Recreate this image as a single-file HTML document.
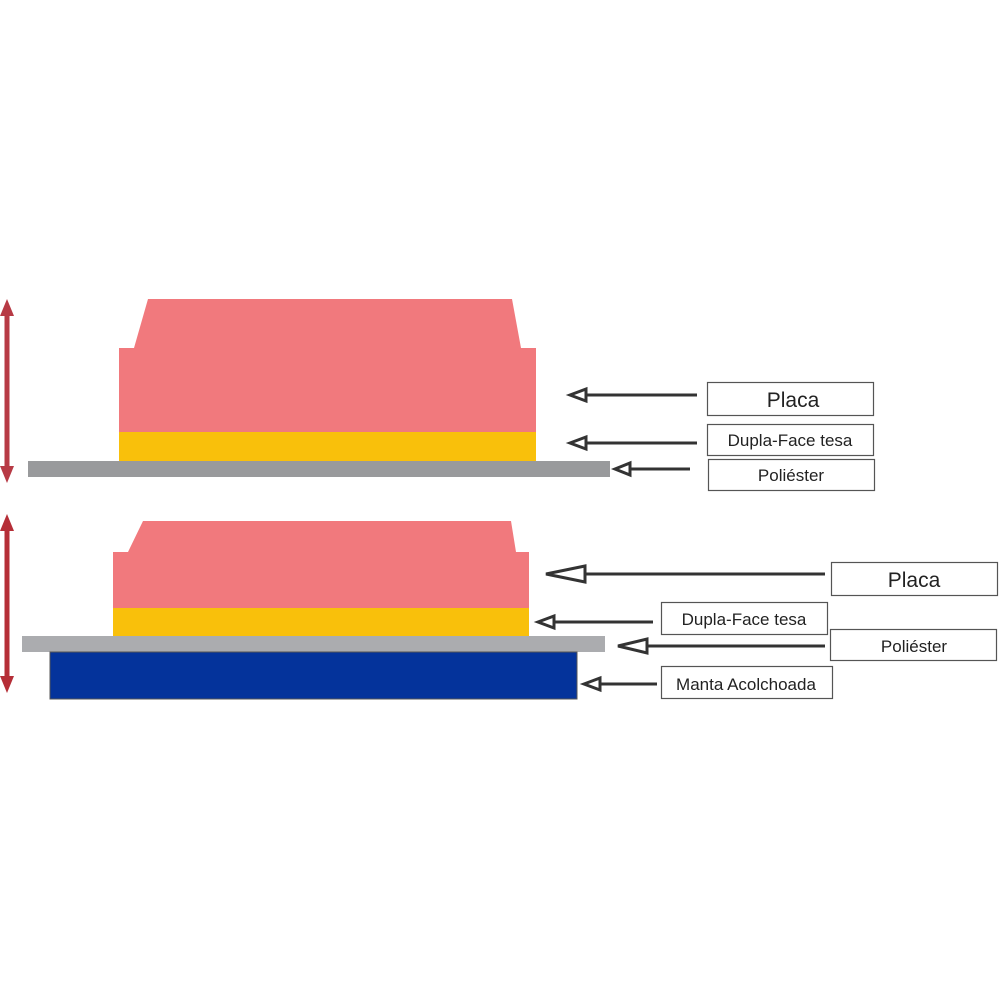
<!DOCTYPE html>
<html><head><meta charset="utf-8"><style>
html,body{margin:0;padding:0;background:#fff;width:1000px;height:1000px;overflow:hidden}
text{font-family:"Liberation Sans",Arial,sans-serif;fill:#222}
</style></head><body>
<svg width="1000" height="1000" viewBox="0 0 1000 1000" xmlns="http://www.w3.org/2000/svg">
<!-- top stack -->
<polygon points="148,299 512,299 521,348 536,348 536,432 119,432 119,348 134,348" fill="#f1797d"/>
<rect x="119" y="432" width="417" height="29" fill="#f9c00b"/>
<rect x="28" y="461" width="582" height="16" fill="#999a9c"/>
<!-- red arrow top -->
<line x1="7" y1="310" x2="7" y2="472" stroke="#b73a45" stroke-width="5"/>
<polygon points="7,299 0,316 14,316" fill="#b73a45"/>
<polygon points="7,483 0,466 14,466" fill="#b73a45"/>

<!-- bottom stack -->
<polygon points="143,521 511,521 516,552 529,552 529,608 113,608 113,552 128,552" fill="#f1797d"/>
<rect x="113" y="608" width="416" height="28" fill="#f9c00b"/>
<rect x="22" y="636" width="583" height="16" fill="#abacaf"/>
<rect x="50" y="652" width="527" height="47" fill="#04339b" stroke="#555" stroke-width="1"/>
<line x1="7" y1="525" x2="7" y2="682" stroke="#b52e37" stroke-width="5"/>
<polygon points="7,514 0,531 14,531" fill="#b52e37"/>
<polygon points="7,693 0,676 14,676" fill="#b52e37"/>

<g stroke="#333" stroke-width="3" fill="none" stroke-linejoin="miter">
<!-- top arrows -->
<line x1="697" y1="395" x2="586" y2="395"/><polygon points="570,395 586,389 586,401"/>
<line x1="697" y1="443" x2="586" y2="443"/><polygon points="570,443 586,437 586,449"/>
<line x1="690" y1="469" x2="630" y2="469"/><polygon points="615,469 630,463 630,475"/>
<!-- bottom arrows -->
<line x1="825" y1="574" x2="585" y2="574"/><polygon points="546,574 585,566 585,582"/>
<line x1="653" y1="622" x2="554" y2="622"/><polygon points="538,622 554,616 554,628"/>
<line x1="825" y1="646" x2="647" y2="646"/><polygon points="618,646 647,639 647,653"/>
<line x1="657" y1="684" x2="600" y2="684"/><polygon points="584,684 600,678 600,690"/>
</g>

<g fill="#fff" stroke="#555" stroke-width="1.2">
<rect x="707.5" y="382.5" width="166" height="33"/>
<rect x="707.5" y="424.5" width="166" height="31"/>
<rect x="708.5" y="459.5" width="166" height="31"/>
<rect x="831.5" y="562.5" width="166" height="33"/>
<rect x="661.5" y="602.5" width="166" height="32"/>
<rect x="830.5" y="629.5" width="166" height="31"/>
<rect x="661.5" y="666.5" width="171" height="32"/>
</g>
<g text-anchor="middle">
<text x="793" y="407" font-size="21">Placa</text>
<text x="790" y="446" font-size="17">Dupla-Face tesa</text>
<text x="791" y="481" font-size="17">Poliéster</text>
<text x="914" y="587" font-size="21">Placa</text>
<text x="744" y="625" font-size="17">Dupla-Face tesa</text>
<text x="914" y="652" font-size="17">Poliéster</text>
<text x="746" y="690" font-size="17">Manta Acolchoada</text>
</g>
</svg>
</body></html>
